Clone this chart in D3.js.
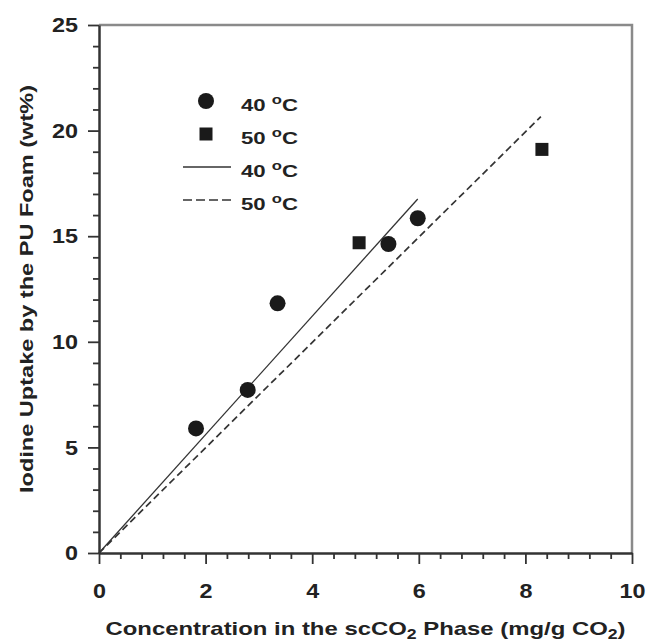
<!DOCTYPE html>
<html>
<head>
<meta charset="utf-8">
<script src="https://cdn.jsdelivr.net/npm/d3@7"></script>
<style>
  body { margin: 0; background: #fff; }
  text { font-family: "Liberation Sans", Arial, sans-serif; font-weight: bold; fill: #222; }
</style>
</head>
<body>
<svg id="chart" width="647" height="643"></svg>
<script>
// measured points, 40 C (circles) and 50 C (squares)
const conc40 = [1.82, 2.79, 3.35, 5.43, 5.98];
const uptake40 = [5.9, 7.72, 11.82, 14.63, 15.85];
const conc50 = [4.88, 8.31];
const uptake50 = [14.69, 19.11];
// fitted lines through the origin
const fit40 = [[0, 0], [5.98, 16.76]];
const fit50 = [[0, 0], [8.29, 20.66]];
const xTicks = [0, 2, 4, 6, 8, 10];
const yTicks = [0, 5, 10, 15, 20, 25];
const legendLabels = ["40", "50", "40", "50"];

const svg = d3.select("#chart");
const m = { left: 99, right: 632, top: 25, bottom: 553 };

const x = d3.scaleLinear().domain([0, 10]).range([m.left, m.right]);
const y = d3.scaleLinear().domain([0, 25]).range([m.bottom, m.top]);

// frame: top and right in grey
svg.append("path")
  .attr("d", `M${m.left},${m.top}H${m.right}V${m.bottom}`)
  .attr("fill", "none").attr("stroke", "#8a8a8a").attr("stroke-width", 2.5);

// minor ticks
const xMinor = d3.range(0, 10.01, 0.4).filter(v => Math.abs(v / 2 - Math.round(v / 2)) > 0.01);
const yMinor = d3.range(0, 25.01, 1).filter(v => v % 5 !== 0);

svg.append("g").attr("transform", `translate(0,${m.bottom})`)
  .call(d3.axisBottom(x).tickValues(xMinor).tickSize(6).tickFormat(""))
  .call(g => g.select(".domain").remove());
svg.append("g").attr("transform", `translate(${m.left},0)`)
  .call(d3.axisLeft(y).tickValues(yMinor).tickSize(6).tickFormat(""))
  .call(g => g.select(".domain").remove());

const xAxis = svg.append("g").attr("transform", `translate(0,${m.bottom})`)
  .call(d3.axisBottom(x).tickValues(xTicks).tickSize(11).tickSizeOuter(0).tickPadding(13).tickFormat(d3.format("d")));
const yAxis = svg.append("g").attr("transform", `translate(${m.left},0)`)
  .call(d3.axisLeft(y).tickValues(yTicks).tickSize(11).tickSizeOuter(0).tickPadding(10).tickFormat(d3.format("d")));

svg.selectAll(".tick line").attr("stroke", "#333").attr("stroke-width", 1.8);
[xAxis, yAxis].forEach(a => {
  a.select(".domain").attr("stroke", "#333").attr("stroke-width", 2.5);
  a.selectAll("text").style("font-size", "21px").attr("fill", "#222")
    .attr("textLength", d => d >= 10 ? 26 : 13).attr("lengthAdjust", "spacingAndGlyphs");
});
xAxis.selectAll("text").attr("dy", null).attr("y", 45);

// axis titles
const xt = svg.append("text").attr("x", (m.left + m.right) / 2).attr("y", 635)
  .attr("text-anchor", "middle").style("font-size", "19px")
  .attr("textLength", 520).attr("lengthAdjust", "spacingAndGlyphs");
xt.append("tspan").text("Concentration in the scCO");
xt.append("tspan").text("2").style("font-size", "14px").attr("dy", 4);
xt.append("tspan").text(" Phase (mg/g CO").attr("dy", -4);
xt.append("tspan").text("2").style("font-size", "14px").attr("dy", 4);
xt.append("tspan").text(")").attr("dy", -4);

svg.append("text")
  .attr("transform", `translate(33,${(m.top + m.bottom) / 2}) rotate(-90)`)
  .attr("text-anchor", "middle").style("font-size", "19px")
  .attr("textLength", 408).attr("lengthAdjust", "spacingAndGlyphs")
  .text("Iodine Uptake by the PU Foam (wt%)");

// fitted lines
const line = d3.line().x(d => x(d[0])).y(d => y(d[1]));
svg.append("path").datum(fit40).attr("d", line)
  .attr("fill", "none").attr("stroke", "#333").attr("stroke-width", 1.3);
svg.append("path").datum(fit50).attr("d", line)
  .attr("fill", "none").attr("stroke", "#333").attr("stroke-width", 1.7)
  .attr("stroke-dasharray", "7,4");

// points
svg.selectAll(".c40").data(conc40).join("circle").attr("class", "c40")
  .attr("cx", d => x(d)).attr("cy", (d, i) => y(uptake40[i])).attr("r", 8)
  .attr("fill", "#1a1a1a");
svg.selectAll(".s50").data(conc50).join("rect").attr("class", "s50")
  .attr("x", d => x(d) - 6.5).attr("y", (d, i) => y(uptake50[i]) - 6.5)
  .attr("width", 13).attr("height", 13).attr("fill", "#1a1a1a");

// legend
const lg = svg.append("g").attr("transform", "translate(206,101)");
const rowH = 33;
lg.append("circle").attr("cx", 0).attr("cy", 0).attr("r", 8).attr("fill", "#1a1a1a");
lg.append("rect").attr("x", -6.5).attr("y", rowH - 6.5).attr("width", 13).attr("height", 13).attr("fill", "#1a1a1a");
lg.append("line").attr("x1", -23).attr("x2", 25).attr("y1", 2 * rowH).attr("y2", 2 * rowH)
  .attr("stroke", "#333").attr("stroke-width", 1.3);
lg.append("line").attr("x1", -23).attr("x2", 25).attr("y1", 3 * rowH).attr("y2", 3 * rowH)
  .attr("stroke", "#333").attr("stroke-width", 1.7).attr("stroke-dasharray", "9,4");
legendLabels.forEach((t, i) => {
  const tx = lg.append("text").attr("x", 35).attr("y", i * rowH + 10).style("font-size", "16px")
    .attr("textLength", 57).attr("lengthAdjust", "spacingAndGlyphs");
  tx.append("tspan").text(t + " ");
  tx.append("tspan").text("o").style("font-size", "12px").attr("dy", -7);
  tx.append("tspan").text("C").attr("dy", 7);
});
</script>
</body>
</html>
